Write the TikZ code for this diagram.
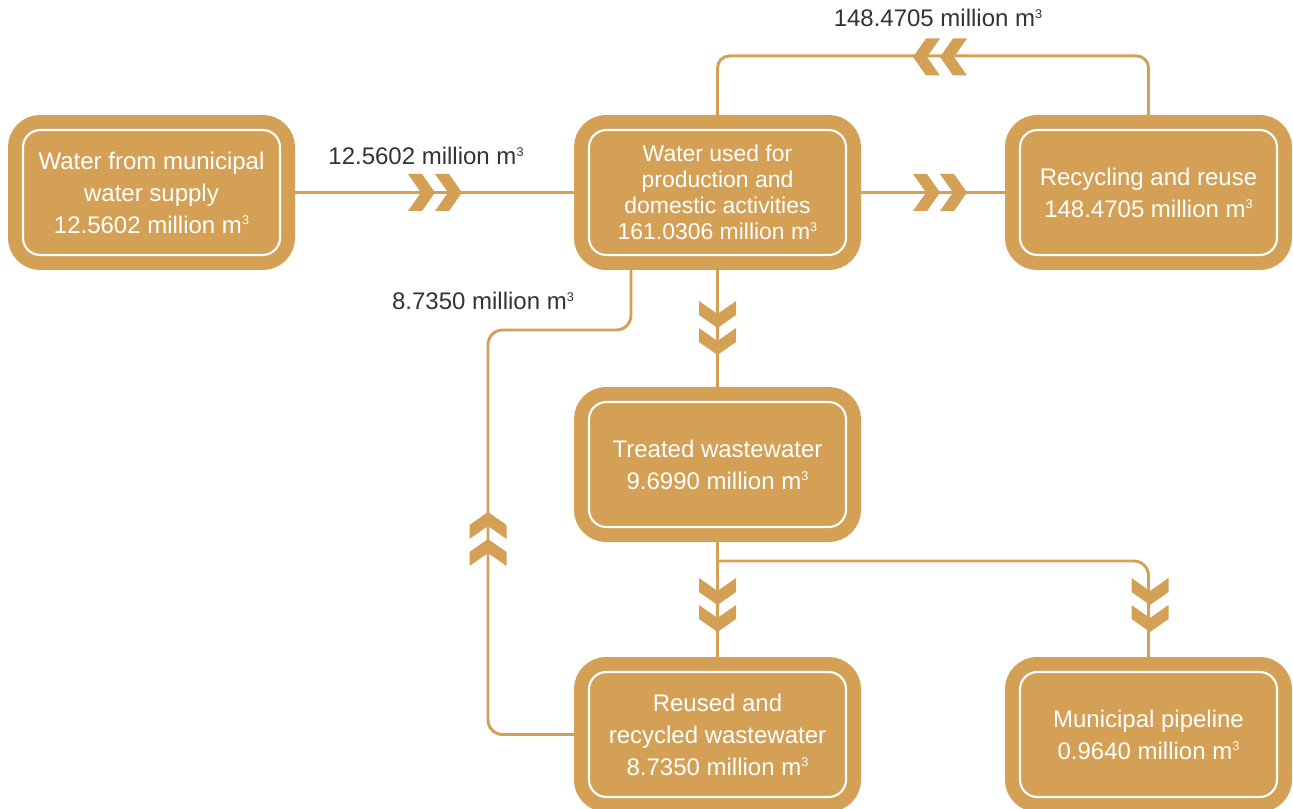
\documentclass[tikz,border=0pt]{standalone}
\usepackage{fontspec}
\setmainfont{Liberation Sans}
\usetikzlibrary{calc,backgrounds}
\definecolor{gold}{HTML}{D4A055}
\definecolor{txt}{HTML}{333333}
\newcommand\cubm{m\raisebox{0.34em}{\fontsize{9.5}{9.5}\selectfont 3}}
\tikzset{
 box/.style={fill=gold, draw=white, line width=1.6pt, rounded corners=13pt,
   minimum width=192.75pt, minimum height=93.75pt, inner sep=0pt, align=center,
   text=white, font=\fontsize{18}{24}\selectfont,
   preaction={draw=gold, line width=22.5pt}},
 conn/.style={draw=gold, line width=2.2pt},
 lbl/.style={text=txt, font=\fontsize{18}{22}\selectfont, inner sep=0pt},
 chev/.pic={\fill[gold] (-27,-18.5)--(-13,-18.5)--(0,0)--(-13,18.5)--(-27,18.5)--(-14,0)--cycle;}
}
\begin{document}
\begin{tikzpicture}[x=0.75pt,y=-0.75pt]
\useasboundingbox (0,0) rectangle (1293,809);
\node[box] (b1) at (151.5,192.5) {Water from municipal\\water supply\\12.5602 million \cubm};
\node[box, font=\fontsize{17.2}{19.5}\selectfont] (b2) at (717.5,192.5) {Water used for\\production and\\domestic activities\\161.0306 million \cubm};
\node[box] (b3) at (1148.5,192.5) {Recycling and reuse\\148.4705 million \cubm};
\node[box] (b4) at (717.5,464.5) {Treated wastewater\\9.6990 million \cubm};
\node[box] (b5) at (717.5,734.5) {Reused and\\recycled wastewater\\8.7350 million \cubm};
\node[box] (b6) at (1148.5,734.5) {Municipal pipeline\\0.9640 million \cubm};

\node[lbl] (l1) at (426,156) {12.5602 million \cubm};
\node[lbl] (l2) at (938,18) {148.4705 million \cubm};
\node[lbl] (l3) at (483,301) {8.7350 million \cubm};

\coordinate (j) at (717.5,561);
\coordinate (lc) at (488,330);

\begin{scope}[on background layer]
\draw[conn] (b1) -- (b2);
\draw[conn] (b2) -- (b3);
\draw[conn, rounded corners=9pt] (b2.north) -- ++(0,-73) -| (b3.north);
\draw[conn] (b2) -- (b4);
\draw[conn, rounded corners=11pt] ($(b2.south)+(-86.5,0)$) |- (lc) |- (b5.west);
\draw[conn] (b4) -- (b5);
\draw[conn, rounded corners=11pt] (j) -| (b6.north);
\end{scope}

\pic at (435,192.5) {chev};
\pic at (462,192.5) {chev};
\pic at (940,192.5) {chev};
\pic at (967,192.5) {chev};
\pic[rotate=180] at (913,57) {chev};
\pic[rotate=180] at (940,57) {chev};
\pic[rotate=-90] at (717.5,328) {chev};
\pic[rotate=-90] at (717.5,355) {chev};
\pic[rotate=-90] at (717.5,605) {chev};
\pic[rotate=-90] at (717.5,632) {chev};
\pic[rotate=-90] at (1150,605) {chev};
\pic[rotate=-90] at (1150,632) {chev};
\pic[rotate=90] at (488,512) {chev};
\pic[rotate=90] at (488,539) {chev};
\end{tikzpicture}
\end{document}
